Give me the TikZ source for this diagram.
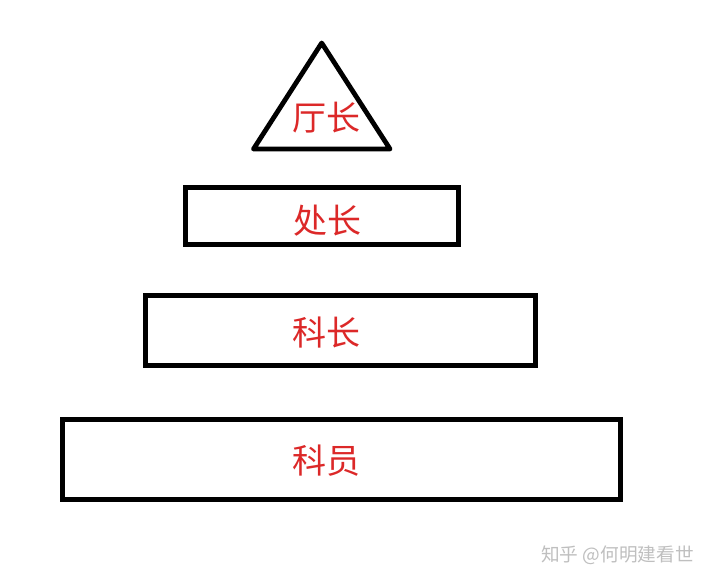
\documentclass[tikz,border=0pt]{standalone}
\usepackage{fontspec}
\newfontfamily\cjk{Noto Sans CJK SC}
\begin{document}
\begin{tikzpicture}[x=0.75pt,y=-0.75pt,
  shapeline/.style={draw=black,line width=3.6pt,line join=miter},
  lvl/.style={text=redtxt,font=\cjk\fontsize{25.5}{25.5}\selectfont,inner sep=0pt},
  wm/.style={text=black!25,font=\cjk\fontsize{14}{14}\selectfont,inner sep=0pt,anchor=west}]
\definecolor{redtxt}{RGB}{220,40,40}
\useasboundingbox[fill=white] (0,0) rectangle (715,586);
\draw[shapeline,line join=round] (321.7,43) -- (390,149) -- (253.5,149) -- cycle;
\draw[shapeline] (185.2,187.5) rectangle (458.2,244.5);
\draw[shapeline] (145.5,295.5) rectangle (535.5,365.5);
\draw[shapeline] (62.5,419.5) rectangle (620.5,499.5);
\node[lvl] (t1) at (326,118) {厅长};
\node[lvl] (t2) at (327,221) {处长};
\node[lvl] (t3) at (326,333) {科长};
\node[lvl] (t4) at (326,461) {科员};
\node[wm] (w) at (541,555) {知乎 @何明建看世};
\end{tikzpicture}
\end{document}
